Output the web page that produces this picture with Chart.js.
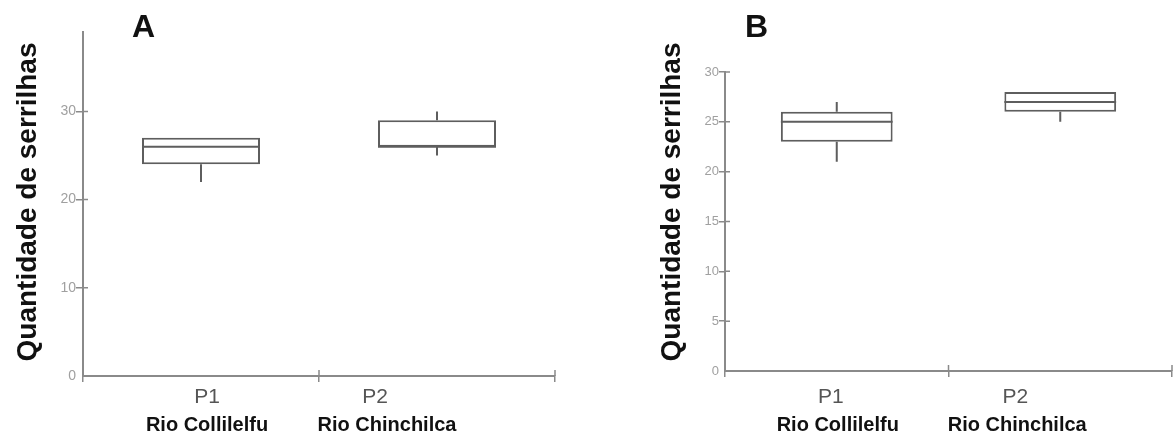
<!DOCTYPE html>
<html>
<head>
<meta charset="utf-8">
<script src="https://cdn.jsdelivr.net/npm/chart.js@4.4.1/dist/chart.umd.min.js"></script>
<style>
  body { margin: 0; background: #fff; width: 1175px; height: 436px; position: relative; overflow: hidden; }
  .painel { position: absolute; top: 0; height: 436px; }
  #js--painelA { left: 0; width: 600px; }
  #js--painelB { left: 640px; width: 535px; }
</style>
</head>
<body>
<div class="painel" id="js--painelA"><canvas id="js--chartA"></canvas></div>
<div class="painel" id="js--painelB"><canvas id="js--chartB"></canvas></div>
<script>
const pontos = ['P1', 'P2'];
const rios = ['Rio Collilelfu', 'Rio Chinchilca'];

// painel A
const minA = [22, 25];
const q1A = [24, 26];
const medianaA = [26, 26];
const q3A = [27, 29];
const maxA = [27, 30];
const ticksA = [0, 10, 20, 30];

// painel B
const minB = [21, 25];
const q1B = [23, 26];
const medianaB = [25, 27];
const q3B = [26, 28];
const maxB = [27, 28];
const ticksB = [0, 5, 10, 15, 20, 25, 30];

const fonte = "'Liberation Sans', Arial, sans-serif";
const corEixo = '#8a8a8a';
const corCaixa = '#5e5e5e';

// mediana e bigodes por cima das caixas
const caixasPlugin = {
  id: 'caixas',
  afterDatasetsDraw(chart, args, opts) {
    const ctx = chart.ctx;
    const y = chart.scales.y;
    const meta = chart.getDatasetMeta(0);
    ctx.save();
    ctx.strokeStyle = opts.cor;
    ctx.lineWidth = opts.espessura;
    meta.data.forEach(function(barra, i){
      const meio = barra.x;
      const metade = barra.width / 2;
      const yMed = y.getPixelForValue(opts.mediana[i]);
      ctx.beginPath();
      ctx.moveTo(meio - metade, yMed);
      ctx.lineTo(meio + metade, yMed);
      ctx.moveTo(meio, y.getPixelForValue(opts.q3[i]));
      ctx.lineTo(meio, y.getPixelForValue(opts.max[i]));
      ctx.moveTo(meio, y.getPixelForValue(opts.q1[i]));
      ctx.lineTo(meio, y.getPixelForValue(opts.min[i]));
      ctx.stroke();
    });
    ctx.restore();
  }
};

// letra do painel, titulo do eixo y, rotulos do eixo x e tracinhos internos
const textosPlugin = {
  id: 'textos',
  afterDraw(chart, args, opts) {
    const ctx = chart.ctx;
    const x = chart.scales.x;
    const y = chart.scales.y;
    const area = chart.chartArea;
    ctx.save();

    ctx.strokeStyle = corEixo;
    ctx.lineWidth = 1.5;
    ctx.beginPath();
    y.ticks.forEach(function(t){
      if (t.value === 0) return;
      const py = y.getPixelForValue(t.value);
      ctx.moveTo(area.left, py);
      ctx.lineTo(area.left + 5, py);
    });
    const passo = (area.right - area.left) / pontos.length;
    for (let i = 1; i <= pontos.length; i++) {
      const px = area.left + passo * i;
      ctx.moveTo(px, area.bottom);
      ctx.lineTo(px, area.bottom - 6);
    }
    ctx.stroke();

    ctx.fillStyle = '#111';
    ctx.font = 'bold 32px ' + fonte;
    ctx.textAlign = 'left';
    ctx.textBaseline = 'alphabetic';
    ctx.fillText(opts.letra, opts.letraX, 37);

    ctx.save();
    ctx.translate(opts.tituloX, 202);
    ctx.rotate(-Math.PI / 2);
    ctx.textAlign = 'center';
    ctx.textBaseline = 'middle';
    ctx.font = 'bold 28px ' + fonte;
    ctx.fillText('Quantidade de serrilhas', 0, 0);
    ctx.restore();

    ctx.textAlign = 'center';
    pontos.forEach(function(p, i){
      const px = x.getPixelForValue(i);
      ctx.fillStyle = '#555';
      ctx.font = '21px ' + fonte;
      ctx.fillText(p, px + opts.desvioP[i], 403);
      ctx.fillStyle = '#111';
      ctx.font = 'bold 20px ' + fonte;
      ctx.fillText(rios[i], px + opts.desvioRio[i], 431);
    });
    ctx.restore();
  }
};

function criarGrafico(id, caixa, listaTicks, maxY, painel) {
  const config = {
    type: 'bar',
    data: {
      labels: pontos,
      datasets: [{
        data: caixa.q1.map(function(v, i){ return [v, caixa.q3[i]]; }),
        backgroundColor: '#fff',
        borderColor: corCaixa,
        borderWidth: 2,
        borderSkipped: false,
        barPercentage: 0.5,
        categoryPercentage: 1
      }]
    },
    options: {
      responsive: true,
      maintainAspectRatio: false,
      animation: false,
      layout: { padding: painel.padding },
      plugins: {
        legend: { display: false },
        tooltip: { enabled: false },
        caixas: { cor: corCaixa, espessura: 2, mediana: caixa.mediana, q1: caixa.q1, q3: caixa.q3, min: caixa.min, max: caixa.max },
        textos: painel.textos
      },
      scales: {
        x: {
          offset: true,
          grid: { offset: true, drawOnChartArea: false, tickLength: 6, color: corEixo, lineWidth: 1.5 },
          border: { color: corEixo, width: 2 },
          ticks: { display: false },
          afterFit: function(s){ s.height = painel.alturaX; }
        },
        y: {
          min: 0,
          max: maxY,
          afterBuildTicks: function(s){ s.ticks = listaTicks.map(function(v){ return { value: v }; }); },
          grid: {
            drawOnChartArea: false,
            tickLength: painel.tick,
            lineWidth: 1.5,
            color: function(c){ return c.tick && c.tick.value === 0 ? 'rgba(0,0,0,0)' : corEixo; }
          },
          border: { color: corEixo, width: 2 },
          ticks: { padding: 0, color: '#a0a0a0', font: { family: fonte, size: painel.tamanhoTick } },
          afterFit: function(s){ s.width = painel.larguraY; }
        }
      }
    },
    plugins: [caixasPlugin, textosPlugin]
  };
  return new Chart(document.getElementById(id), config);
}

const chartA = criarGrafico('js--chartA',
  { min: minA, q1: q1A, mediana: medianaA, q3: q3A, max: maxA },
  ticksA, 39,
  {
    padding: { top: 32, right: 45, left: 0, bottom: 0 },
    alturaX: 60, larguraY: 83, tick: 7, tamanhoTick: 14,
    textos: { letra: 'A', letraX: 132, tituloX: 28, desvioP: [6, -62], desvioRio: [6, -50] }
  });

const chartB = criarGrafico('js--chartB',
  { min: minB, q1: q1B, mediana: medianaB, q3: q3B, max: maxB },
  ticksB, 30,
  {
    padding: { top: 72, right: 3, left: 0, bottom: 0 },
    alturaX: 65, larguraY: 85, tick: 6, tamanhoTick: 13,
    textos: { letra: 'B', letraX: 105, tituloX: 32, desvioP: [-6, -45], desvioRio: [1, -43] }
  });
</script>
</body>
</html>
